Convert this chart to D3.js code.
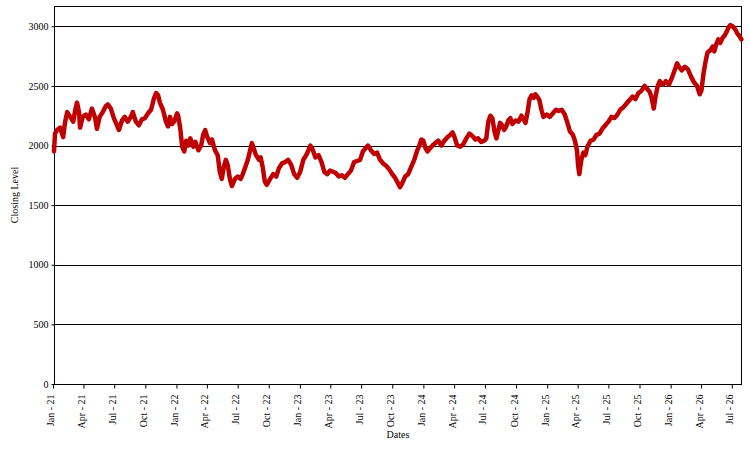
<!DOCTYPE html>
<html>
<head>
<meta charset="utf-8">
<script src="https://cdn.jsdelivr.net/npm/d3@7"></script>
<style>
  html, body { margin: 0; padding: 0; background: #fff; }
  svg { display: block; }
  text { font-family: "Liberation Serif", "DejaVu Serif", serif; fill: #000; }
</style>
</head>
<body>
<svg id="chart" width="750" height="450"></svg>
<script>
const dates = [
  "2021-01-04","2021-01-07","2021-01-13","2021-01-22","2021-01-31","2021-02-06","2021-02-12","2021-02-21","2021-03-02","2021-03-08","2021-03-13","2021-03-19","2021-03-22",
  "2021-03-30","2021-04-08","2021-04-17","2021-04-26","2021-05-05","2021-05-11","2021-05-19","2021-05-28","2021-06-06","2021-06-12","2021-06-21",
  "2021-06-30","2021-07-09","2021-07-15","2021-07-24","2021-08-01","2021-08-10","2021-08-19","2021-08-25","2021-09-03","2021-09-12","2021-09-21",
  "2021-09-30","2021-10-09","2021-10-18","2021-10-27","2021-11-02","2021-11-08","2021-11-13","2021-11-22","2021-12-01","2021-12-07","2021-12-13","2021-12-19","2021-12-25",
  "2022-01-03","2022-01-06","2022-01-12","2022-01-18","2022-01-24","2022-01-30","2022-02-05","2022-02-11","2022-02-20","2022-02-26","2022-03-07","2022-03-15","2022-03-21","2022-03-27",
  "2022-04-01","2022-04-10","2022-04-16","2022-04-25","2022-05-03","2022-05-09","2022-05-15","2022-05-21","2022-05-27","2022-06-02","2022-06-08","2022-06-14","2022-06-23",
  "2022-07-01","2022-07-10","2022-07-16","2022-07-25","2022-07-31","2022-08-06","2022-08-12","2022-08-18","2022-08-24","2022-09-02","2022-09-07","2022-09-13","2022-09-19","2022-09-25",
  "2022-10-05","2022-10-14","2022-10-23","2022-10-31","2022-11-09","2022-11-18","2022-11-27","2022-12-06","2022-12-15","2022-12-24",
  "2023-01-02","2023-01-11","2023-01-20","2023-01-26","2023-02-01","2023-02-07","2023-02-16","2023-02-25","2023-03-06","2023-03-14","2023-03-23",
  "2023-03-31","2023-04-09","2023-04-17","2023-04-26","2023-05-05","2023-05-14","2023-05-23","2023-06-01","2023-06-10","2023-06-19","2023-06-28",
  "2023-07-06","2023-07-15","2023-07-21","2023-07-30","2023-08-08","2023-08-17","2023-08-26","2023-09-04","2023-09-13","2023-09-22",
  "2023-10-01","2023-10-09","2023-10-15","2023-10-24","2023-10-30","2023-11-08","2023-11-17","2023-11-26","2023-12-05","2023-12-14","2023-12-20","2023-12-26",
  "2024-01-01","2024-01-07","2024-01-13","2024-01-22","2024-01-28","2024-02-05","2024-02-14","2024-02-23","2024-03-03","2024-03-12","2024-03-21","2024-03-27",
  "2024-04-01","2024-04-10","2024-04-19","2024-04-28","2024-05-07","2024-05-16","2024-05-25","2024-06-03","2024-06-11","2024-06-20","2024-06-29",
  "2024-07-05","2024-07-11","2024-07-17","2024-07-23","2024-07-29","2024-08-04","2024-08-09","2024-08-15","2024-08-21","2024-08-27","2024-09-02","2024-09-08","2024-09-14","2024-09-20",
  "2024-09-30","2024-10-08","2024-10-17","2024-10-23","2024-10-29","2024-11-04","2024-11-10","2024-11-16","2024-11-22","2024-11-27","2024-12-03","2024-12-09","2024-12-15","2024-12-21",
  "2024-12-31","2025-01-09","2025-01-18","2025-01-27","2025-02-04","2025-02-13","2025-02-22","2025-03-03","2025-03-09","2025-03-18","2025-03-24","2025-03-30",
  "2025-04-03","2025-04-06","2025-04-12","2025-04-18","2025-04-24","2025-04-30","2025-05-09","2025-05-18","2025-05-27","2025-06-05","2025-06-13","2025-06-22",
  "2025-07-01","2025-07-10","2025-07-19","2025-07-28","2025-08-05","2025-08-14","2025-08-23","2025-09-01","2025-09-10","2025-09-19","2025-09-28",
  "2025-10-07","2025-10-16","2025-10-22","2025-10-31","2025-11-06","2025-11-12","2025-11-18","2025-11-24","2025-11-30","2025-12-09","2025-12-18","2025-12-27",
  "2026-01-05","2026-01-14","2026-01-20","2026-01-26","2026-02-03","2026-02-12","2026-02-21","2026-03-02","2026-03-11","2026-03-20","2026-03-28",
  "2026-04-02","2026-04-08","2026-04-14","2026-04-20","2026-04-29","2026-05-05","2026-05-10","2026-05-16","2026-05-22","2026-05-28","2026-06-03","2026-06-09","2026-06-15","2026-06-21","2026-06-27",
  "2026-07-03","2026-07-12","2026-07-17","2026-07-23","2026-07-29"
];
const closingLevels = [
  1950,2100,2130,2150,2070,2200,2280,2240,2200,2300,2360,2280,2150,
  2240,2260,2220,2310,2240,2140,2240,2280,2330,2345,2310,
  2230,2170,2130,2210,2240,2200,2240,2280,2200,2170,2220,
  2230,2270,2300,2400,2440,2420,2360,2300,2200,2160,2240,2180,2200,
  2270,2250,2150,1990,1950,2040,2000,2060,1990,2030,1960,2000,2090,2130,
  2080,2020,2050,1960,1920,1780,1720,1820,1880,1830,1720,1660,1720,
  1740,1720,1760,1830,1880,1950,2020,1970,1920,1880,1900,1820,1700,1670,
  1720,1760,1740,1810,1850,1860,1880,1840,1760,1730,
  1780,1880,1920,1960,2000,1970,1900,1920,1860,1780,1760,
  1790,1780,1770,1740,1750,1730,1760,1790,1860,1870,1880,
  1950,1980,2000,1960,1930,1940,1880,1850,1830,1800,
  1760,1730,1700,1650,1680,1740,1760,1820,1880,1960,2000,2050,
  2040,1980,1950,1980,2000,2020,2040,2000,2040,2070,2090,2110,
  2080,2000,1990,2010,2060,2100,2080,2050,2060,2030,2040,
  2060,2200,2250,2230,2120,2060,2120,2190,2170,2130,2160,2210,2230,2180,
  2210,2200,2250,2220,2190,2280,2390,2420,2400,2430,2410,2380,2300,2240,
  2260,2240,2270,2300,2290,2300,2260,2180,2120,2090,2040,1960,
  1820,1760,1880,1940,1920,1990,2040,2050,2090,2100,2140,2170,
  2200,2240,2230,2260,2300,2320,2350,2380,2410,2390,2440,
  2460,2500,2480,2450,2400,2310,2420,2500,2540,2510,2540,2510,
  2570,2640,2690,2660,2630,2660,2640,2580,2530,2500,2430,
  2460,2600,2700,2780,2800,2830,2790,2850,2890,2860,2900,2920,2950,2990,3010,
  3000,2970,2940,2920,2890
];
const yTickValues = [0, 500, 1000, 1500, 2000, 2500, 3000];
const xTickLabels = [
  "Jan - 21","Apr - 21","Jul - 21","Oct - 21","Jan - 22","Apr - 22","Jul - 22","Oct - 22",
  "Jan - 23","Apr - 23","Jul - 23","Oct - 23","Jan - 24","Apr - 24","Jul - 24","Oct - 24",
  "Jan - 25","Apr - 25","Jul - 25","Oct - 25","Jan - 26","Apr - 26","Jul - 26"
];
const xDomainStart = "2021-01-04";
const xDomainEnd = "2026-07-31";
const yDomainMax = 3170;
const xTitle = "Dates";
const yTitle = "Closing Level";

const parse = d3.timeParse("%Y-%m-%d");
const data = dates.map((d, i) => ({ date: parse(d), value: closingLevels[i] }));

const margin = { left: 54, right: 8, top: 6, bottom: 66 };
const W = 750, H = 450;
const svg = d3.select("#chart");

const x = d3.scaleTime()
  .domain([parse(xDomainStart), parse(xDomainEnd)])
  .range([margin.left, W - margin.right]);
const y = d3.scaleLinear()
  .domain([0, yDomainMax])
  .range([H - margin.bottom, margin.top]);

const tickDates = d3.timeMonth.range(new Date(2021, 0, 1), new Date(2026, 7, 1), 3);

// gridlines
svg.append("g")
  .selectAll("line")
  .data(yTickValues.filter(v => v > 0))
  .join("line")
  .attr("x1", margin.left).attr("x2", W - margin.right)
  .attr("y1", d => Math.round(y(d)) + 0.5).attr("y2", d => Math.round(y(d)) + 0.5)
  .attr("stroke", "#000").attr("stroke-width", 1);

// frame
svg.append("rect")
  .attr("x", margin.left + 0.5).attr("y", margin.top + 0.5)
  .attr("width", W - margin.right - margin.left - 1)
  .attr("height", H - margin.bottom - margin.top)
  .attr("fill", "none").attr("stroke", "#000").attr("stroke-width", 1);

// y axis
const yAxis = d3.axisLeft(y).tickValues(yTickValues).tickSize(3).tickPadding(3).tickFormat(d3.format("d"));
const gy = svg.append("g").attr("transform", `translate(${margin.left + 0.5},0)`).call(yAxis);
gy.attr("font-family", null);
gy.select(".domain").remove();
gy.selectAll("text").attr("font-size", 10);
gy.selectAll("line").attr("stroke", "#000");

// x axis
const xAxis = d3.axisBottom(x).tickValues(tickDates).tickSize(4).tickFormat((d, i) => xTickLabels[i]);
const gx = svg.append("g").attr("transform", `translate(0,${H - margin.bottom + 0.5})`).call(xAxis);
gx.attr("font-family", null);
gx.select(".domain").remove();
gx.selectAll("line").attr("stroke", "#000");
gx.selectAll("text")
  .attr("font-size", 10)
  .attr("text-anchor", "end")
  .attr("x", 0).attr("y", 0).attr("dy", "0.05em")
  .attr("transform", "translate(0.5,10) rotate(-90)");

// line
const line = d3.line().x(d => x(d.date)).y(d => y(d.value));
svg.append("path")
  .datum(data)
  .attr("d", line)
  .attr("fill", "none")
  .attr("stroke", "#c00000")
  .attr("stroke-width", 4.5)
  .attr("stroke-linejoin", "round")
  .attr("stroke-linecap", "round");

// titles
svg.append("text")
  .attr("x", (margin.left + W - margin.right) / 2)
  .attr("y", 438)
  .attr("text-anchor", "middle")
  .attr("font-size", 10)
  .text(xTitle);
svg.append("text")
  .attr("transform", `translate(18,${(margin.top + H - margin.bottom) / 2}) rotate(-90)`)
  .attr("text-anchor", "middle")
  .attr("font-size", 10)
  .text(yTitle);
</script>
</body>
</html>
